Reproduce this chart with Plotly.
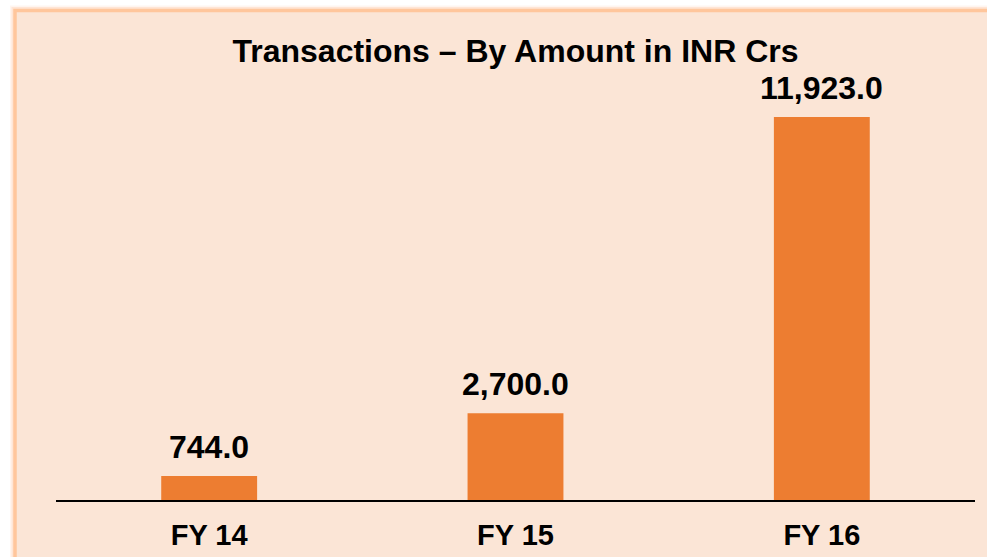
import plotly.graph_objects as go

categories = ["FY 14", "FY 15", "FY 16"]
values = [744.0, 2700.0, 11923.0]
labels = ["744.0", "2,700.0", "11,923.0"]
title_text = "Transactions – By Amount in INR Crs"

W, H = 987, 557
L, R, T, B = 56, 12, 62, 57
pw, ph = W - L - R, H - T - B
FONT = "Liberation Sans, Arial"

def px_x(px):
    return (px - L) / pw

def px_y(py):
    return (H - B - py) / ph

fig = go.Figure()
fig.add_trace(go.Bar(
    x=categories, y=values,
    marker=dict(color="#ED7D31", line=dict(width=0)),
    hoverinfo="skip",
))

for c, v, t in zip(categories, values, labels):
    fig.add_annotation(x=c, y=v, text="<b>%s</b>" % t, showarrow=False,
                       yanchor="bottom", yshift=9,
                       font=dict(family=FONT, size=32, color="#000000"))

shapes = []
# soft shadow / glow
for w, col in [(10, "rgba(255,215,190,0.25)"), (7, "rgba(255,200,165,0.35)")]:
    shapes.append(dict(type="rect", xref="paper", yref="paper",
                       x0=px_x(15), x1=px_x(1005), y0=px_y(575), y1=px_y(10.5),
                       line=dict(color=col, width=w), fillcolor="rgba(0,0,0,0)", layer="below"))
shapes.append(dict(type="rect", xref="paper", yref="paper",
                   x0=px_x(15), x1=px_x(1005), y0=px_y(575), y1=px_y(10.5),
                   line=dict(color="#FFC69C", width=3.5), fillcolor="#FBE5D6", layer="below"))

fig.update_layout(
    width=W, height=H,
    margin=dict(l=L, r=R, t=T, b=B, pad=0, autoexpand=False),
    paper_bgcolor="#FFFFFF",
    plot_bgcolor="rgba(0,0,0,0)",
    bargap=0.687,
    showlegend=False,
    shapes=shapes,
    title=dict(text="<b>%s</b>" % title_text, x=0.5, xref="paper",
               y=1 - 51 / H, yref="container", yanchor="middle", xanchor="center",
               font=dict(family=FONT, size=32, color="#000000")),
    font=dict(family=FONT, color="#000000"),
)
fig.update_xaxes(showline=True, linecolor="#000000", linewidth=1.5,
                 showgrid=False, zeroline=False, ticks="", automargin=False,
                 tickfont=dict(family=FONT, size=29, color="#000000"),
                 ticklabelstandoff=8, tickprefix="<b>", ticksuffix="</b>")
fig.update_yaxes(range=[0, 11923 * ph / 383], visible=False, showgrid=False,
                 zeroline=False, automargin=False)

fig.write_html("out.html", config={"displayModeBar": False},
               post_script="document.body.style.margin='0';document.body.style.overflow='hidden';")
